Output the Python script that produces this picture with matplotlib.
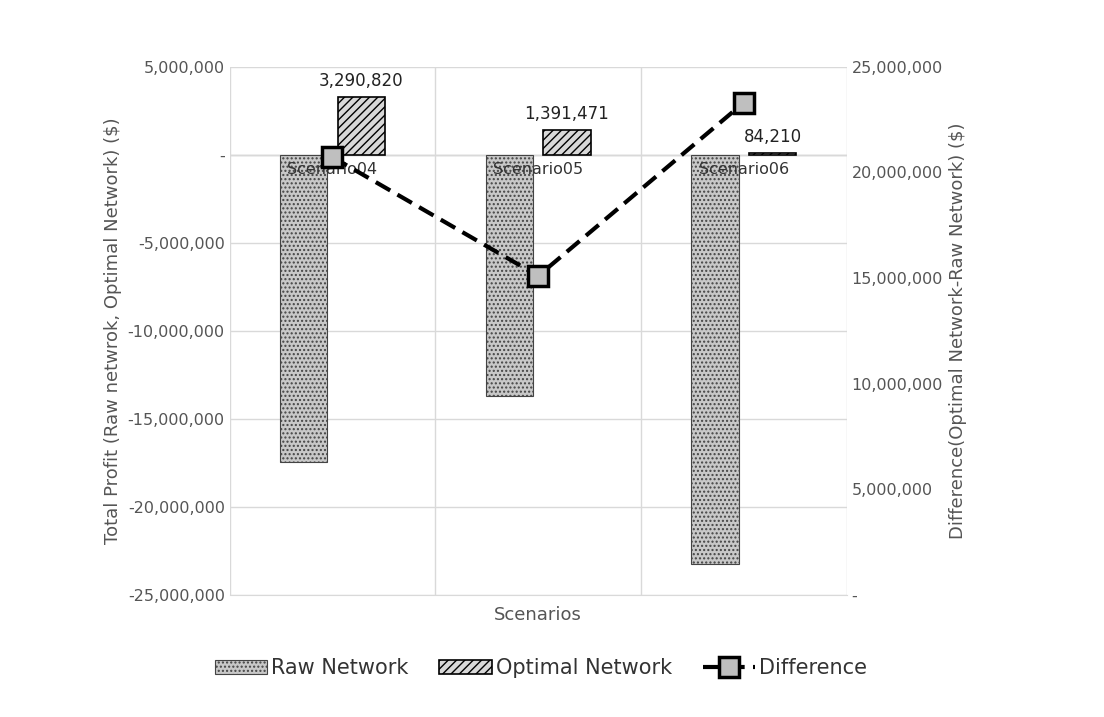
import numpy as np
import matplotlib.pyplot as plt
from matplotlib.ticker import FuncFormatter

scenarios = ["Scenario04", "Scenario05", "Scenario06"]
raw = [-17430000, -13710000, -23220000]
optimal = [3290820, 1391471, 84210]
difference = [20720820, 15101471, 23304210]

def fmt(v, pos=None):
    if v == 0:
        return "-"
    return f"{v:,.0f}"

plt.rcParams["hatch.linewidth"] = 1.0
fig = plt.figure(figsize=(11.04, 7.17), dpi=100)
ax = fig.add_axes([0.208, 0.170, 0.559, 0.737])
x = np.arange(len(scenarios))
w = 0.23
ax.bar(x - 0.14, raw, w, color="#c8c8c8", hatch="....", edgecolor="#444444", linewidth=0.8, label="Raw Network", zorder=2)
ax.bar(x + 0.14, optimal, w, color="#d8d8d8", hatch="////", edgecolor="black", linewidth=1.2, label="Optimal Network", zorder=2)
for xi, v in zip(x, optimal):
    ax.text(xi + 0.14, v + 400000, f"{v:,}", ha="center", va="bottom", fontsize=12, color="#222222")
for xi, s in zip(x, scenarios):
    ax.text(xi, -400000, s, ha="center", va="top", fontsize=11.5, color="#333333", zorder=5)

ax.set_xlim(-0.5, 2.5)
ax.set_ylim(-25000000, 5000000)
ax.set_yticks(np.arange(-25000000, 5000001, 5000000))
ax.yaxis.set_major_formatter(FuncFormatter(fmt))
ax.set_xticks([-0.5, 0.5, 1.5, 2.5], minor=False)
ax.set_xticklabels([])
ax.tick_params(length=0, labelsize=11.5, colors="#555555")
ax.grid(True, color="#d9d9d9", linewidth=1, zorder=0)
ax.axhline(0, color="#bfbfbf", linewidth=1, zorder=1)
for s in ax.spines.values():
    s.set_visible(False)
ax.spines["bottom"].set_visible(True)
ax.spines["bottom"].set_color("#d9d9d9")
ax.set_xlabel("Scenarios", fontsize=13, color="#555555")
ax.set_ylabel("Total Profit (Raw netwrok, Optimal Network) ($)", fontsize=13, color="#555555")

ax2 = ax.twinx()
ax2.plot(x, difference, "--", color="black", linewidth=3, dashes=(4, 2),
         marker="s", markersize=15, markerfacecolor="#bfbfbf", markeredgecolor="black",
         markeredgewidth=2.5, label="Difference", zorder=4)
ax2.set_ylim(0, 25000000)
ax2.set_yticks(np.arange(0, 25000001, 5000000))
ax2.yaxis.set_major_formatter(FuncFormatter(fmt))
ax2.tick_params(length=0, labelsize=11.5, colors="#555555")
for s in ax2.spines.values():
    s.set_visible(False)
ax2.set_ylabel("Difference(Optimal Network-Raw Network) ($)", fontsize=13, color="#555555")

h1, l1 = ax.get_legend_handles_labels()
h2, l2 = ax2.get_legend_handles_labels()
fig.legend(h1 + h2, l1 + l2, loc="center", bbox_to_anchor=(0.49, 0.068), ncol=3,
           frameon=False, fontsize=15, handlelength=2.5, columnspacing=1.5, handletextpad=0.2,
           labelcolor="#333333")
fig.savefig("out.png")
